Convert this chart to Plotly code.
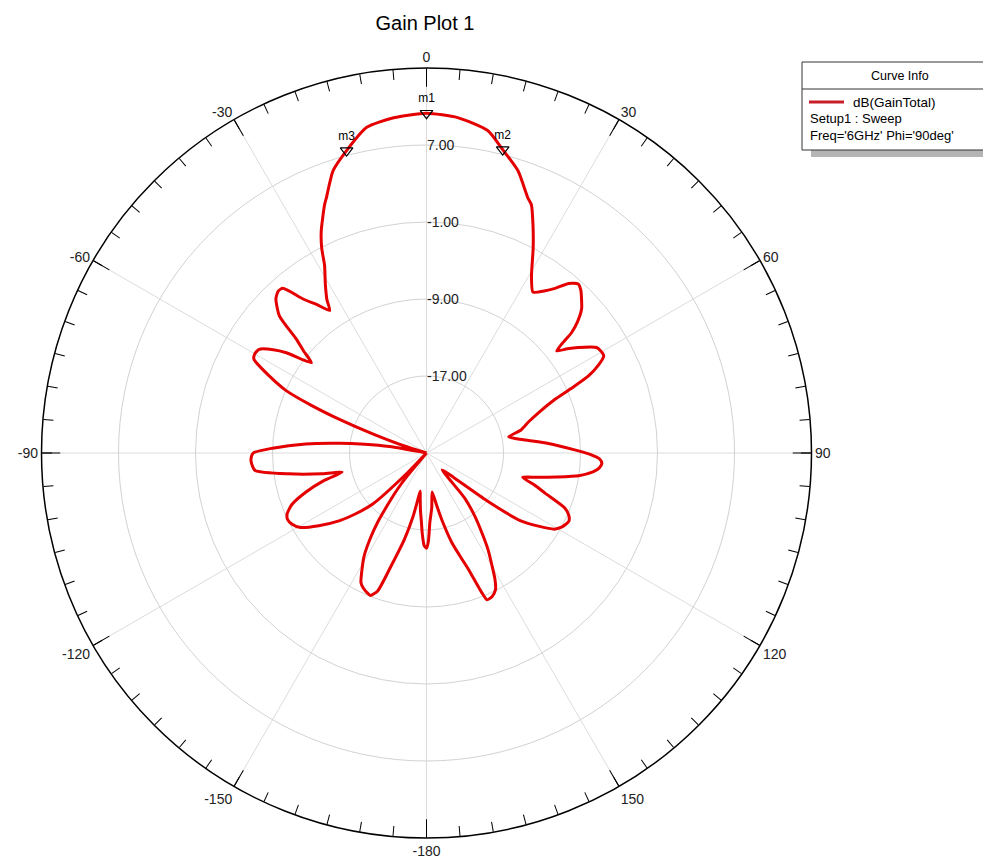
import plotly.graph_objects as go

# Gain pattern (theta in deg, gain in dB); -25 = at the centre
theta = [-180, -178.5, -177, -175.8, -174, -172, -170.5, -169, -168, -165.7,
         -162.6, -160.5, -158.5, -157.2, -155, -153.2, -150.8, -148.8, -146.5, -144.8,
         -142.5, -141.2, -140, -138.5, -137, -136, -133.5, -130.5, -127.8, -124,
         -120.6, -117.9, -115.5, -113.6, -111, -108, -105, -102.8, -101.3, -98.6,
         -95.8, -93.5, -92, -90, -88.2, -85.7, -83.6, -82, -80.2, -78.5,
         -74, -72.5, -70.5, -69, -67.5, -66, -63.9, -61.5, -60, -58.2,
         -56, -54.4, -51.9, -50.3, -48.8, -47, -44.3, -42.5, -41.1, -38.7,
         -36.5, -34.2, -33, -31, -28.5, -27.1, -25.4, -22.3, -21.4, -18.3,
         -14.8, -10.4, -5.6, 0, 5.3, 10.75, 14.1, 18, 21.7, 22.9,
         25.2, 27.5, 30.8, 33.5, 36, 38, 40, 41.9, 43.5, 45.2,
         47.1, 49, 50.3, 51.9, 53.5, 55.2, 58.2, 60, 61.3, 63,
         64.6, 66, 67.4, 70, 73, 76.3, 78.9, 81, 83, 85.5,
         88.8, 90.5, 92, 93.4, 95, 96.5, 98.5, 100.5, 102.5, 104.2,
         106.5, 108.7, 111.6, 113.5, 115.5, 117.5, 118.8, 120.8, 123, 125.8,
         128.3, 132, 137, 139.8, 142.5, 145.1, 147.5, 149.9, 151.5, 153.2,
         155.5, 157.6, 158.4, 160.2, 162.2, 164.3, 167, 169.1, 171.8, 174.5,
         177.2, 178.8, 180]
gain_db = [-15.1, -15.4, -16.6, -17.8, -19.0, -20.3, -21.0, -19.5, -18.2, -15.8,
           -12.7, -9.8, -9.1, -9.2, -9.5, -9.9, -11.3, -12.5, -14.5, -16.2,
           -19.0, -20.3, -22.0, -25, -25, -22.0, -17.3, -15.2, -13.5, -11.5,
           -9.8, -9.2, -9.0, -9.2, -10.0, -11.8, -14.0, -16.0, -14.0, -10.5,
           -7.1, -6.8, -6.75, -7.0, -9.0, -12.4, -15.9, -18.5, -21.1, -25,
           -25, -22.5, -19.0, -15.5, -12.0, -9.0, -6.8, -4.6, -4.4, -4.55,
           -5.8, -7.1, -9.8, -8.4, -7.0, -4.1, -2.6, -2.2, -2.3, -4.5,
           -5.8, -7.1, -6.0, -4.6, -2.8, -1.1, 0.5, 2.9, 3.5, 5.9,
           7.5, 9.4, 10.0, 10.3, 10.0, 9.1, 7.5, 5.8, 3.5, 3.0,
           1.0, -1.0, -3.7, -4.95, -4.2, -3.3, -2.0, -1.4, -1.7, -2.3,
           -3.0, -4.2, -5.4, -7.8, -6.8, -5.8, -4.2, -4.0, -4.0, -5.0,
           -6.4, -8.6, -10.6, -12.5, -13.9, -14.9, -16.3, -15.5, -14.3, -12.3,
           -9.6, -8.0, -7.0, -6.75, -7.0, -7.6, -9.0, -11.3, -13.3, -14.7,
           -13.3, -12.0, -9.6, -8.9, -8.6, -8.8, -9.0, -9.55, -11.0, -13.0,
           -17.0, -21.2, -22.6, -18.8, -16.8, -15.0, -13.1, -11.4, -10.1, -9.1,
           -8.6, -8.5, -9.4, -12.2, -13.9, -15.4, -17.8, -19.5, -20.9, -19.3,
           -17.8, -15.8, -15.1]

marker_names = ["m1", "m2", "m3"]
marker_theta = [0, 14.1, -14.8]
marker_db = [10.3, 7.5, 7.5]

angle_ticks = list(range(0, 360, 30))
angle_labels = ["0", "30", "60", "90", "120", "150",
                "-180", "-150", "-120", "-90", "-60", "-30"]
minor_ticks = list(range(0, 360, 5))
radial_ticks = [-17, -9, -1, 7]
radial_labels = ["-17.00", "-9.00", "-1.00", "7.00"]
r_range = [-25, 15]

# the page body has an 8px margin, so the figure is a little smaller than the window
OFF = 8
W, H = 991 - OFF, 860 - OFF
FONT = "Arial, Liberation Sans, sans-serif"


def px(x):
    # screen pixel -> paper x
    return (x - OFF) / W


def py(y):
    # screen pixel -> paper y
    return 1 - (y - OFF) / H


# polar area on screen: centre (426.5, 453), radius ~382 px (plotly trims a few px)
cx, cy, rad = 426.5, 453, 385
dom_x = [px(cx - rad), px(cx + rad)]
dom_y = [py(cy + rad), py(cy - rad)]

fig = go.Figure()

# empty trace so that the grid / label subplot gets drawn
fig.add_trace(go.Scatterpolar(r=[None], theta=[None], subplot="polar",
                              showlegend=False, hoverinfo="skip"))

fig.add_trace(go.Scatterpolar(
    r=gain_db, theta=theta, mode="lines",
    line=dict(color="rgb(228,0,0)", width=3, shape="spline", smoothing=0.6),
    subplot="polar2", showlegend=False, hoverinfo="skip"))

fig.add_trace(go.Scatterpolar(
    r=marker_db, theta=marker_theta, mode="markers+text",
    marker=dict(symbol="triangle-down-open", size=11, color="black",
                line=dict(width=1.2)),
    text=marker_names, textposition="top center",
    textfont=dict(family=FONT, size=12, color="black"),
    subplot="polar2", showlegend=False, hoverinfo="skip"))

fig.update_layout(
    width=W, height=H,
    margin=dict(l=0, r=0, t=0, b=0),
    paper_bgcolor="white",
    font=dict(family=FONT, color="#222"),
    title=dict(text="Gain Plot 1", x=px(425), xanchor="center",
               y=py(23), yanchor="middle", yref="container",
               font=dict(family=FONT, size=20, color="black")),
    polar=dict(
        domain=dict(x=dom_x, y=dom_y),
        bgcolor="white",
        angularaxis=dict(
            rotation=90, direction="clockwise",
            tickmode="array", tickvals=angle_ticks, ticktext=angle_labels,
            ticks="inside", ticklen=18, tickwidth=1.2, tickcolor="black",
            showline=True, linecolor="black", linewidth=1.5,
            showgrid=True, gridcolor="#dcdcdc", gridwidth=1,
            tickfont=dict(family=FONT, size=14, color="#222")),
        radialaxis=dict(
            range=r_range, angle=90, side="clockwise",
            tickmode="array", tickvals=radial_ticks, ticktext=radial_labels,
            tickangle=90, ticks="", showline=False,
            showgrid=True, gridcolor="#d2d2d2", gridwidth=1,
            tickfont=dict(family=FONT, size=14, color="#222"))),
    polar2=dict(
        domain=dict(x=dom_x, y=dom_y),
        bgcolor="rgba(0,0,0,0)",
        angularaxis=dict(
            rotation=90, direction="clockwise",
            tickmode="array", tickvals=minor_ticks, showticklabels=False,
            ticks="inside", ticklen=10, tickwidth=1.2, tickcolor="black",
            showline=False, showgrid=False),
        radialaxis=dict(range=r_range, visible=False)),
)

# "Curve Info" box
box_l, box_t, box_r, box_b = 802, 62, 1000, 150
fig.add_shape(type="rect", xref="paper", yref="paper",
              x0=px(box_l + 9), x1=px(box_r + 6), y0=py(box_b + 7), y1=py(box_t + 7),
              fillcolor="#b4b4b4", line=dict(width=0), layer="above")
fig.add_shape(type="rect", xref="paper", yref="paper",
              x0=px(box_l), x1=px(box_r), y0=py(box_b), y1=py(box_t),
              fillcolor="white", line=dict(color="#333", width=1), layer="above")
fig.add_shape(type="line", xref="paper", yref="paper",
              x0=px(box_l), x1=px(box_r), y0=py(89), y1=py(89),
              line=dict(color="#333", width=1), layer="above")
fig.add_shape(type="line", xref="paper", yref="paper",
              x0=px(809), x1=px(844), y0=py(102), y1=py(102),
              line=dict(color="rgb(200,30,40)", width=3), layer="above")

legend_rows = [
    ("Curve Info", 900, 76, "center", 12.5),
    ("dB(GainTotal)", 851, 102, "left", 13.5),
    ("Setup1 : Sweep", 808, 119, "left", 13),
    ("Freq='6GHz' Phi='90deg'", 808, 136, "left", 13),
]
for txt, x, y, anchor, size in legend_rows:
    fig.add_annotation(text=txt, xref="paper", yref="paper",
                       x=px(x), y=py(y), xanchor=anchor, yanchor="middle",
                       showarrow=False,
                       font=dict(family=FONT, size=size, color="black"))

fig.write_html("out.html")
